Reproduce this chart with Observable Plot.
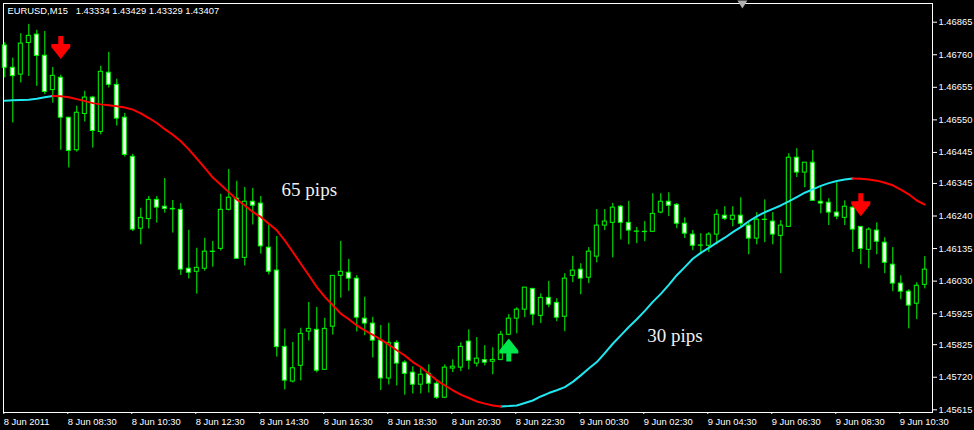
<!DOCTYPE html>
<html><head><meta charset="utf-8">
<script src="https://cdn.jsdelivr.net/npm/d3@7"></script>
<script src="https://cdn.jsdelivr.net/npm/@observablehq/plot@0.6"></script>
<style>html,body{margin:0;padding:0;background:#000;overflow:hidden}</style>
</head><body><div id="chart"></div>
<script>
// EURUSD M15 candles, bar 0 = 8 Jun 2011 06:30
const opens = [1.46790,1.46718,1.46696,1.46798,1.46825,1.46757,1.46646,1.46686,1.46557,1.46452,
1.46569,1.46622,1.46511,1.46702,1.46663,1.46557,1.46431,1.46199,1.46230,1.46292,
1.46270,1.46263,1.46260,1.46070,1.46060,1.46070,1.46125,1.46134,1.46260,1.46296,
1.46105,1.46286,1.46280,1.46138,1.46064,1.45818,1.45706,1.45757,1.45867,1.45873,
1.45744,1.45883,1.46047,1.46057,1.46038,1.45909,1.45893,1.45838,1.45716,1.45831,
1.45767,1.45735,1.45696,1.45731,1.45699,1.45654,1.45748,1.45751,1.45835,1.45764,
1.45775,1.45770,1.45776,1.45857,1.45909,1.45938,1.46005,1.45918,1.45976,1.45960,
1.45915,1.46047,1.46067,1.46041,1.46109,1.46209,1.46218,1.46270,1.46218,1.46189,
1.46188,1.46189,1.46251,1.46286,1.46276,1.46215,1.46180,1.46144,1.46144,1.46180,
1.46241,1.46228,1.46241,1.46209,1.46167,1.46228,1.46222,1.46176,1.46205,1.46428,
1.46380,1.46412,1.46286,1.46283,1.46251,1.46234,1.46267,1.46205,1.46131,1.46193,
1.46154,1.46083,1.46022,1.45996,1.45957,1.46018];
const highs = [1.46799,1.46749,1.46828,1.46858,1.46839,1.46835,1.46719,1.46694,1.46557,1.46594,
1.46642,1.46626,1.46723,1.46768,1.46681,1.46571,1.46439,1.46265,1.46303,1.46303,
1.46361,1.46290,1.46280,1.46194,1.46136,1.46168,1.46158,1.46310,1.46390,1.46352,
1.46332,1.46329,1.46303,1.46210,1.46174,1.45875,1.45832,1.45878,1.45961,1.45945,
1.45910,1.46047,1.46158,1.46100,1.46048,1.45978,1.45913,1.45887,1.45894,1.45838,
1.45773,1.45754,1.45748,1.45760,1.45712,1.45760,1.45776,1.45831,1.45873,1.45848,
1.45822,1.45815,1.45868,1.45922,1.45944,1.46009,1.46005,1.45989,1.46029,1.45973,
1.46054,1.46110,1.46086,1.46138,1.46261,1.46261,1.46281,1.46274,1.46287,1.46203,
1.46222,1.46312,1.46312,1.46315,1.46280,1.46234,1.46193,1.46183,1.46186,1.46260,
1.46270,1.46270,1.46299,1.46222,1.46251,1.46292,1.46251,1.46225,1.46441,1.46457,
1.46412,1.46451,1.46334,1.46296,1.46347,1.46289,1.46270,1.46205,1.46202,1.46218,
1.46170,1.46138,1.46047,1.46002,1.46025,1.46109];
const lows = [1.46685,1.46540,1.46669,1.46690,1.46658,1.46632,1.46604,1.46452,1.46395,1.46446,
1.46543,1.46459,1.46502,1.46653,1.46530,1.46430,1.46190,1.46147,1.46198,1.46217,
1.46249,1.46185,1.46048,1.46037,1.45988,1.46062,1.46075,1.46127,1.46256,1.46102,
1.46079,1.46211,1.46117,1.46050,1.45785,1.45679,1.45702,1.45708,1.45837,1.45734,
1.45744,1.45856,1.45975,1.45997,1.45866,1.45854,1.45782,1.45677,1.45695,1.45692,
1.45662,1.45666,1.45666,1.45669,1.45648,1.45651,1.45735,1.45738,1.45744,1.45753,
1.45757,1.45728,1.45773,1.45854,1.45860,1.45912,1.45886,1.45893,1.45944,1.45899,
1.45867,1.46025,1.45986,1.46022,1.46089,1.46193,1.46105,1.46163,1.46147,1.46151,
1.46157,1.46189,1.46247,1.46238,1.46199,1.46167,1.46128,1.46115,1.46122,1.46147,
1.46225,1.46205,1.46205,1.46115,1.46147,1.46154,1.46147,1.46054,1.46205,1.46364,
1.46331,1.46289,1.46247,1.46209,1.46228,1.46209,1.46122,1.46083,1.46070,1.46115,
1.46054,1.45996,1.45970,1.45876,1.45906,1.46005];
const closes = [1.46718,1.46691,1.46796,1.46821,1.46756,1.46640,1.46692,1.46557,1.46450,1.46573,
1.46622,1.46514,1.46705,1.46663,1.46554,1.46437,1.46196,1.46234,1.46292,1.46267,
1.46263,1.46261,1.46067,1.46057,1.46073,1.46125,1.46124,1.46260,1.46299,1.46102,
1.46286,1.46273,1.46142,1.46060,1.45817,1.45709,1.45749,1.45860,1.45876,1.45741,
1.45876,1.46047,1.46060,1.46038,1.45912,1.45893,1.45838,1.45716,1.45831,1.45764,
1.45731,1.45696,1.45728,1.45699,1.45654,1.45751,1.45754,1.45818,1.45773,1.45780,
1.45767,1.45776,1.45857,1.45909,1.45938,1.46009,1.45922,1.45976,1.45954,1.45912,
1.46038,1.46064,1.46038,1.46125,1.46209,1.46222,1.46267,1.46218,1.46193,1.46190,
1.46189,1.46247,1.46286,1.46273,1.46215,1.46183,1.46144,1.46145,1.46180,1.46244,
1.46231,1.46241,1.46215,1.46167,1.46228,1.46227,1.46180,1.46209,1.46428,1.46380,
1.46412,1.46289,1.46280,1.46251,1.46238,1.46270,1.46196,1.46134,1.46196,1.46157,
1.46089,1.46022,1.45996,1.45951,1.46015,1.46067];
// smoothed moving average (one value per bar)
const maValues = [1.46612,1.46613,1.46614,1.46615,1.46618,1.46623,1.46627,1.46626,1.46623,1.46617,
1.46611,1.46604,1.46600,1.46597,1.46594,1.46590,1.46583,1.46571,1.46556,1.46540,
1.46520,1.46502,1.46481,1.46455,1.46425,1.46395,1.46364,1.46341,1.46317,1.46293,
1.46274,1.46253,1.46237,1.46215,1.46194,1.46161,1.46124,1.46086,1.46049,1.46011,
1.45979,1.45952,1.45925,1.45907,1.45887,1.45871,1.45857,1.45841,1.45825,1.45807,
1.45790,1.45769,1.45753,1.45731,1.45710,1.45694,1.45678,1.45664,1.45653,1.45642,
1.45635,1.45629,1.45626,1.45627,1.45629,1.45637,1.45645,1.45658,1.45669,1.45678,
1.45688,1.45705,1.45726,1.45748,1.45769,1.45798,1.45828,1.45855,1.45882,1.45907,
1.45934,1.45963,1.45989,1.46018,1.46049,1.46075,1.46102,1.46121,1.46137,1.46154,
1.46170,1.46188,1.46204,1.46223,1.46239,1.46252,1.46263,1.46274,1.46287,1.46301,
1.46315,1.46326,1.46337,1.46346,1.46353,1.46358,1.46361,1.46360,1.46358,1.46354,
1.46347,1.46339,1.46325,1.46310,1.46290,1.46277];
const xTickBars = [0,8,16,24,32,40,48,56,64,72,80,88,96,104,112];
const xTickLabels = ["8 Jun 2011","8 Jun 08:30","8 Jun 10:30","8 Jun 12:30","8 Jun 14:30","8 Jun 16:30","8 Jun 18:30","8 Jun 20:30","8 Jun 22:30","9 Jun 00:30","9 Jun 02:30","9 Jun 04:30","9 Jun 06:30","9 Jun 08:30","9 Jun 10:30"];
const yTickValues = [1.46865,1.46760,1.46655,1.46550,1.46445,1.46345,1.46240,1.46135,1.46030,1.45925,1.45825,1.45720,1.45615];
const titleText = "EURUSD,M15\u00a0\u00a0 1.43334 1.43429 1.43329 1.43407";
const arrowBars = [7, 107, 63];
const arrowPrices = [1.46783, 1.46276, 1.45808];
const arrowDirs = ["down", "down", "up"];
const noteTexts = ["65 pips", "30 pips"];
const noteBars = [34.6, 80.3];
const notePrices = [1.46304, 1.45835];
const shiftMarkerBar = [92.2];

const bars = opens.map((o, i) => ({i, o, h: highs[i], l: lows[i], c: closes[i]}));
const bulls = bars.filter(d => d.c >= d.o);
const bears = bars.filter(d => d.c < d.o);

const maRows = [];
let run = 0, prevDir = null;
for (let i = 1; i < maValues.length; i++) {
  const dir = maValues[i] > maValues[i - 1] ? "up" : "down";
  if (dir !== prevDir) { run++; maRows.push({k: i - 1, v: maValues[i - 1], run, dir}); prevDir = dir; }
  maRows.push({k: i, v: maValues[i], run, dir});
}
const arrows = arrowBars.map((k, i) => ({k, p: arrowPrices[i], dir: arrowDirs[i]}));
const notes = noteTexts.map((t, i) => ({t, k: noteBars[i], p: notePrices[i]}));
const tickLabel = new Map(xTickBars.map((k, i) => [k, xTickLabels[i]]));

function arrowPath(ctx, s) {
  const pts = [[-2.5,-11.5],[2.5,-11.5],[2.5,-3.5],[9.5,-3.5],[9.5,-0.5],[0,11.5],[-9.5,-0.5],[-9.5,-3.5],[-2.5,-3.5]];
  pts.forEach(([x, y], i) => i ? ctx.lineTo(x, y * s) : ctx.moveTo(x, y * s));
  ctx.closePath();
}
const arrowDown = {draw(ctx) { arrowPath(ctx, 1); }};
const arrowUp = {draw(ctx) { arrowPath(ctx, -1); }};
const shiftTri = {draw(ctx) { ctx.moveTo(-5, -3); ctx.lineTo(5, -3); ctx.lineTo(0, 5); ctx.closePath(); }};

const GREEN = "#00ff00", CYAN = "#20e8f0", RED = "#ff0000";

const chart = Plot.plot({
  width: 974, height: 430,
  marginLeft: 3, marginRight: 42, marginTop: 3, marginBottom: 18,
  style: {background: "#000", color: "#fff", fontFamily: "'Liberation Sans', Arial, sans-serif", fontSize: "9.4px"},
  x: {domain: [-0.1625, 115.9625]},
  y: {domain: [1.456063, 1.469253]},
  marks: [
    Plot.ruleX(bars, {x: "i", y1: "l", y2: "h", stroke: GREEN, strokeWidth: 1}),
    Plot.rect(bears, {x1: d => d.i - 0.25, x2: d => d.i + 0.25, y1: "o", y2: "c", fill: "#fff", stroke: GREEN, strokeWidth: 1}),
    Plot.rect(bulls, {x1: d => d.i - 0.25, x2: d => d.i + 0.25, y1: "o", y2: "c", fill: "#000", stroke: GREEN, strokeWidth: 1}),
    Plot.line(maRows.filter(d => d.dir === "up"), {x: "k", y: "v", z: "run", stroke: CYAN, strokeWidth: 2}),
    Plot.line(maRows.filter(d => d.dir === "down"), {x: "k", y: "v", z: "run", stroke: RED, strokeWidth: 2}),
    Plot.dot(arrows.filter(d => d.dir === "down"), {x: "k", y: "p", symbol: arrowDown, r: 10, fill: RED, stroke: "none"}),
    Plot.dot(arrows.filter(d => d.dir === "up"), {x: "k", y: "p", symbol: arrowUp, r: 10, fill: "#00e64d", stroke: "none"}),
    Plot.text(notes, {x: "k", y: "p", text: "t", textAnchor: "start", lineAnchor: "bottom", fontFamily: "'Liberation Serif', 'Times New Roman', serif", fontSize: 19, fill: "#f0f0f0"}),
    Plot.text([titleText], {frameAnchor: "top-left", dx: 4, dy: 4, lineAnchor: "top", textAnchor: "start", fill: "#fff"}),
    Plot.frame({stroke: "#fff"}),
    Plot.dot(shiftMarkerBar, {x: d => d, frameAnchor: "top", symbol: shiftTri, r: 5, fill: "#b0b0b0", stroke: "none"}),
    Plot.axisY(yTickValues, {anchor: "right", tickSize: 4, tickPadding: 2, tickFormat: d => d.toFixed(5), label: null}),
    Plot.axisX(xTickBars, {anchor: "bottom", tickSize: 2, tickPadding: 4, tickFormat: d => tickLabel.get(d), textAnchor: "start", dx: -1, label: null})
  ]
});
document.getElementById("chart").appendChild(chart);
</script>
</body></html>
